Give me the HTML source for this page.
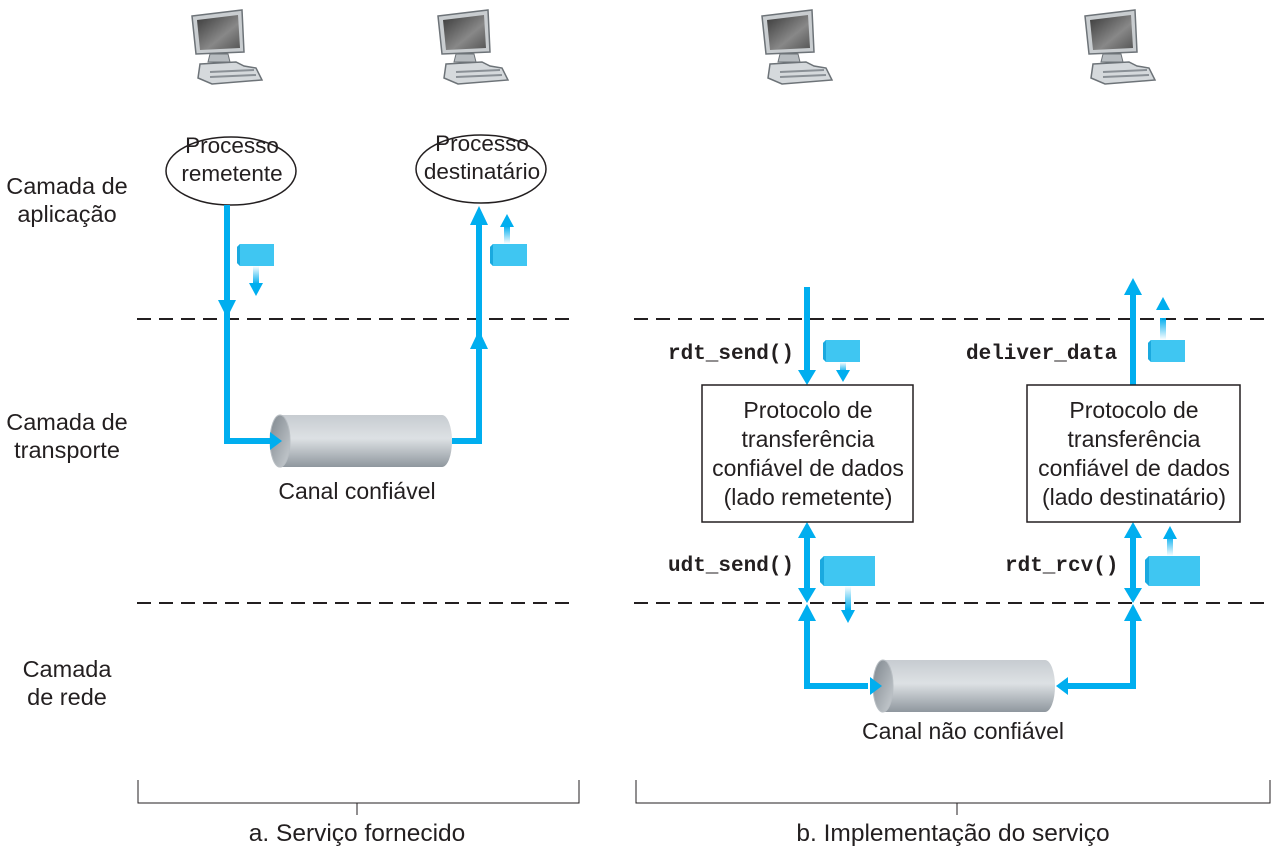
<!DOCTYPE html>
<html><head><meta charset="utf-8"><style>
html,body{margin:0;padding:0;background:#fff}
svg{display:block}
text{font-family:"Liberation Sans",sans-serif;fill:#231f20}
.m{font-family:"Liberation Mono",monospace;font-weight:bold;font-size:21px}
</style></head><body>
<svg width="1287" height="859" viewBox="0 0 1287 859" xmlns="http://www.w3.org/2000/svg">
<defs>
<linearGradient id="cyl" x1="0" y1="0" x2="0" y2="1">
<stop offset="0" stop-color="#c7ccd1"/><stop offset="0.45" stop-color="#dde1e4"/><stop offset="1" stop-color="#8f979e"/></linearGradient>
<linearGradient id="cend" x1="0" y1="0" x2="1" y2="1">
<stop offset="0" stop-color="#7f878e"/><stop offset="1" stop-color="#c9ced2"/></linearGradient>
<linearGradient id="scr" x1="0" y1="0" x2="1" y2="1">
<stop offset="0" stop-color="#3a3a3a"/><stop offset="0.6" stop-color="#888"/><stop offset="1" stop-color="#555"/></linearGradient>
<linearGradient id="fadeD" x1="0" y1="0" x2="0" y2="1"><stop offset="0" stop-color="#00aeef" stop-opacity="0"/><stop offset="1" stop-color="#00aeef"/></linearGradient>
<linearGradient id="fadeU" x1="0" y1="1" x2="0" y2="0"><stop offset="0" stop-color="#00aeef" stop-opacity="0"/><stop offset="1" stop-color="#00aeef"/></linearGradient>
<g id="pc">
<polygon points="0,8 50,2 52,44 4,46" fill="#c9cdd0" stroke="#6d7378" stroke-width="1.5"/>
<polygon points="5,12 46,7 48,40 8,42" fill="url(#scr)"/>
<polygon points="18,46 36,46 38,54 16,54" fill="#b7bcc0" stroke="#6d7378"/>
<polygon points="8,56 44,54 52,58 64,60 70,72 20,76 6,70" fill="#d5d9dc" stroke="#6d7378" stroke-width="1.5"/>
<line x1="18" y1="64" x2="62" y2="62" stroke="#8a9096" stroke-width="2"/>
<line x1="18" y1="69" x2="64" y2="67" stroke="#8a9096" stroke-width="2"/>
</g>
<g id="pk"><polygon points="0,3 3,0 37,0 37,22 3,22 0,19" fill="#3fc6f2"/><polygon points="0,3 3,0 3,22 0,19" fill="#1aa9df"/></g>
<g id="pkb"><polygon points="0,4 4,0 55,0 55,30 4,30 0,26" fill="#3fc6f2"/><polygon points="0,4 4,0 4,30 0,26" fill="#1aa9df"/></g>
</defs>

<use href="#pc" x="192" y="8"/><use href="#pc" x="438" y="8"/>
<use href="#pc" x="762" y="8"/><use href="#pc" x="1085" y="8"/>

<g stroke="#231f20" stroke-width="2" stroke-dasharray="14,8" fill="none">
<line x1="137" y1="319" x2="575" y2="319"/><line x1="634" y1="319" x2="1272" y2="319"/>
<line x1="137" y1="603" x2="575" y2="603"/><line x1="634" y1="603" x2="1272" y2="603"/>
</g>

<g font-size="23.5" text-anchor="middle">
<text x="67" y="194">Camada de</text>
<text x="67" y="222">aplicação</text>
<text x="67" y="430">Camada de</text>
<text x="67" y="458">transporte</text>
<text x="67" y="677">Camada</text>
<text x="67" y="705">de rede</text>
</g>

<ellipse cx="231" cy="171" rx="65" ry="34" fill="#fff" stroke="#231f20" stroke-width="1.5"/>
<text x="232" y="153" font-size="22.5" text-anchor="middle">Processo</text>
<text x="232" y="181" font-size="22.5" text-anchor="middle">remetente</text>
<ellipse cx="481" cy="169" rx="65" ry="34" fill="#fff" stroke="#231f20" stroke-width="1.5"/>
<text x="482" y="151" font-size="22.5" text-anchor="middle">Processo</text>
<text x="482" y="179" font-size="22.5" text-anchor="middle">destinatário</text>

<rect x="280" y="415" width="162" height="52" fill="url(#cyl)"/>
<ellipse cx="442" cy="441" rx="10" ry="26" fill="url(#cyl)"/>
<ellipse cx="280" cy="441" rx="10" ry="26" fill="url(#cend)" stroke="#b8bec3"/>
<text x="357" y="499" font-size="23" text-anchor="middle">Canal confiável</text>

<g fill="none" stroke="#00aeef" stroke-width="6">
<polyline points="227,205 227,441 272,441"/>
<polyline points="452,441 479,441 479,222"/>
<line x1="807" y1="287" x2="807" y2="372"/>
<line x1="1133" y1="385" x2="1133" y2="292"/>
<line x1="807" y1="535" x2="807" y2="590"/>
<line x1="1133" y1="535" x2="1133" y2="590"/>
<polyline points="807,620 807,686 868,686"/>
<polyline points="1063,686 1133,686 1133,620"/>
</g>
<g fill="#00aeef">
<polygon points="218,300 236,300 227,318"/>
<polygon points="270,432 270,450 282,441"/>
<polygon points="470,349 488,349 479,330"/>
<polygon points="470,225 488,225 479,206"/>
<polygon points="798,370 816,370 807,385"/>
<polygon points="1124,295 1142,295 1133,278"/>
<polygon points="798,538 816,538 807,522"/><polygon points="798,588 816,588 807,603"/>
<polygon points="1124,538 1142,538 1133,522"/><polygon points="1124,588 1142,588 1133,603"/>
<polygon points="798,621 816,621 807,604"/><polygon points="1124,621 1142,621 1133,604"/>
</g>

<use href="#pk" x="237" y="244"/><rect x="253" y="266" width="6" height="18" fill="url(#fadeD)"/><polygon points="249,283 263,283 256,296" fill="#00aeef"/>
<use href="#pk" x="490" y="244"/><rect x="504" y="226" width="6" height="18" fill="url(#fadeU)"/><polygon points="500,227 514,227 507,214" fill="#00aeef"/>
<use href="#pk" x="823" y="340"/><rect x="840" y="362" width="6" height="10" fill="url(#fadeD)"/><polygon points="836,370 850,370 843,382" fill="#00aeef"/>
<use href="#pk" x="1148" y="340"/><rect x="1160" y="318" width="6" height="22" fill="url(#fadeU)"/><polygon points="1156,310 1170,310 1163,297" fill="#00aeef"/>
<use href="#pkb" x="820" y="556"/><rect x="845" y="586" width="6" height="24" fill="url(#fadeD)"/><polygon points="841,610 855,610 848,623" fill="#00aeef"/>
<use href="#pkb" x="1145" y="556"/><rect x="1167" y="536" width="6" height="20" fill="url(#fadeU)"/><polygon points="1163,539 1177,539 1170,526" fill="#00aeef"/>

<rect x="883" y="660" width="162" height="52" fill="url(#cyl)"/>
<ellipse cx="1045" cy="686" rx="10" ry="26" fill="url(#cyl)"/>
<ellipse cx="883" cy="686" rx="10" ry="26" fill="url(#cend)" stroke="#b8bec3"/>
<polygon points="870,677 870,695 882,686" fill="#00aeef"/>
<polygon points="1068,677 1068,695 1056,686" fill="#00aeef"/>
<text x="963" y="739" font-size="23" text-anchor="middle">Canal não confiável</text>

<rect x="702" y="385" width="211" height="137" fill="#fff" stroke="#231f20" stroke-width="1.5"/>
<g font-size="23" text-anchor="middle">
<text x="808" y="418">Protocolo de</text>
<text x="808" y="447">transferência</text>
<text x="808" y="476">confiável de dados</text>
<text x="808" y="505">(lado remetente)</text>
</g>
<rect x="1027" y="385" width="213" height="137" fill="#fff" stroke="#231f20" stroke-width="1.5"/>
<g font-size="23" text-anchor="middle">
<text x="1134" y="418">Protocolo de</text>
<text x="1134" y="447">transferência</text>
<text x="1134" y="476">confiável de dados</text>
<text x="1134" y="505">(lado destinatário)</text>
</g>

<text class="m" x="668" y="359">rdt_send()</text>
<text class="m" x="966" y="359">deliver_data</text>
<text class="m" x="668" y="571">udt_send()</text>
<text class="m" x="1005" y="571">rdt_rcv()</text>

<g stroke="#231f20" stroke-width="1" fill="none">
<polyline points="138,780 138,803 579,803 579,780"/><line x1="357" y1="803" x2="357" y2="815"/>
<polyline points="636,780 636,803 1270,803 1270,780"/><line x1="957" y1="803" x2="957" y2="815"/>
</g>
<text x="357" y="841" font-size="24.5" text-anchor="middle">a. Serviço fornecido</text>
<text x="953" y="841" font-size="24.5" text-anchor="middle">b. Implementação do serviço</text>
</svg>
</body></html>
